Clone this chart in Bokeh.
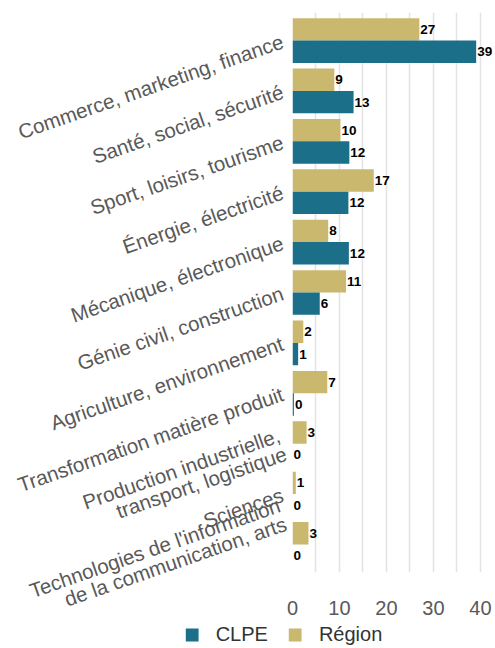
from bokeh.plotting import figure
from bokeh.layouts import column, row
from bokeh.models import FactorRange, Range1d, ColumnDataSource, Legend, LegendItem, SingleIntervalTicker, FixedTicker
from bokeh.transform import dodge
from bokeh.core.properties import value
from bokeh.embed import file_html
from bokeh.resources import INLINE

categories = [
    "Commerce, marketing, finance",
    "Santé, social, sécurité",
    "Sport, loisirs, tourisme",
    "Énergie, électricité",
    "Mécanique, électronique",
    "Génie civil, construction",
    "Agriculture, environnement",
    "Transformation matière produit",
    "Production industrielle,\ntransport, logistique",
    "Sciences",
    "Technologies de l'information\nde la communication, arts",
]
clpe = [39.1, 13.0, 12.1, 11.9, 12.0, 5.8, 1.2, 0.3, 0.0, 0.0, 0.0]
region = [27.0, 8.9, 10.2, 17.3, 7.6, 11.4, 2.3, 7.4, 3.0, 0.7, 3.4]
clpe_labels = ["39", "13", "12", "12", "12", "6", "1", "0", "0", "0", "0"]
region_labels = ["27", "9", "10", "17", "8", "11", "2", "7", "3", "1", "3"]
series_names = ["CLPE", "Région"]
x_ticks = [0, 10, 20, 30, 40]

TEAL = "#1b6f89"
GOLD = "#cab86f"
FONT = "Liberation Sans"

src = ColumnDataSource(dict(cat=categories, clpe=clpe, region=region,
                            clpe_lbl=clpe_labels, region_lbl=region_labels))

p = figure(width=495, height=620, output_backend="svg", toolbar_location=None,
           y_range=FactorRange(factors=list(reversed(categories)), range_padding=0.0104),
           x_range=Range1d(0, 43),
           min_border_left=292, min_border_right=1, min_border_top=12, min_border_bottom=48)
p.outline_line_color = None
p.background_fill_color = "white"

r_reg = p.hbar(y=dodge("cat", 0.222, range=p.y_range), right="region", left=0, height=0.444,
               source=src, color=GOLD, line_color=None)
r_clpe = p.hbar(y=dodge("cat", -0.222, range=p.y_range), right="clpe", left=0, height=0.444,
                source=src, color=TEAL, line_color=None)

p.text(x="region", y=dodge("cat", 0.222, range=p.y_range), text="region_lbl", source=src,
       x_offset=1, text_baseline="middle", text_align="left", text_font=value(FONT),
       text_font_style="bold", text_font_size="13.5px", text_color="black")
p.text(x="clpe", y=dodge("cat", -0.222, range=p.y_range), text="clpe_lbl", source=src,
       x_offset=1, text_baseline="middle", text_align="left", text_font=value(FONT),
       text_font_style="bold", text_font_size="13.5px", text_color="black")

p.xaxis.ticker = FixedTicker(ticks=x_ticks)
p.xaxis.axis_line_color = None
p.xaxis.major_tick_line_color = None
p.xaxis.minor_tick_line_color = None
p.xaxis.major_label_text_font = FONT
p.xaxis.major_label_text_font_size = "20px"
p.xaxis.major_label_text_color = "#595959"
p.xaxis.major_label_standoff = 22

p.yaxis.axis_line_color = None
p.yaxis.major_tick_line_color = None
p.yaxis.minor_tick_line_color = None
p.yaxis.major_label_text_font = FONT
p.yaxis.major_label_text_font_size = "20.5px"
p.yaxis.major_label_text_color = "#595959"
p.yaxis.major_label_text_line_height = 0.85
p.yaxis.major_label_orientation = 0.335
p.yaxis.major_label_standoff = 4
# two-line labels: first line sits on the tick, second line below it
p.yaxis.major_label_overrides = {c: "\u00a0\n" + c for c in categories if "\n" in c}

p.ygrid.grid_line_color = None
p.xgrid.ticker = SingleIntervalTicker(interval=5)
p.xgrid.grid_line_color = "#e3e3e3"
p.xgrid.grid_line_width = 1.5

# legend strip below the chart (swatch renderers have zero width, so only the legend shows)
lg = figure(width=495, height=28, output_backend="svg", toolbar_location=None, title=None,
            x_range=Range1d(0, 1), y_range=Range1d(0, 1),
            x_axis_type=None, y_axis_type=None,
            min_border_left=183, min_border_right=112, min_border_top=0, min_border_bottom=0)
lg.outline_line_color = None
lg.xgrid.visible = False
lg.ygrid.visible = False
l_clpe = lg.hbar(y=[0.5], right=[0], left=0, height=0.0, color=TEAL, line_color=None)
l_reg = lg.hbar(y=[0.5], right=[0], left=0, height=0.0, color=GOLD, line_color=None)

legend = Legend(items=[LegendItem(label=series_names[0], renderers=[l_clpe]),
                       LegendItem(label=series_names[1], renderers=[l_reg])],
                orientation="horizontal", location="center",
                label_text_font=FONT, label_text_font_size="20px", label_text_color="#333333",
                glyph_width=16, glyph_height=16, spacing=19, label_standoff=16,
                border_line_color=None, background_fill_alpha=0, padding=0, margin=0)
lg.add_layout(legend, "center")

layout = column(p, row(lg, spacing=0), spacing=0)
open("out.html", "w").write(file_html(layout, INLINE))
